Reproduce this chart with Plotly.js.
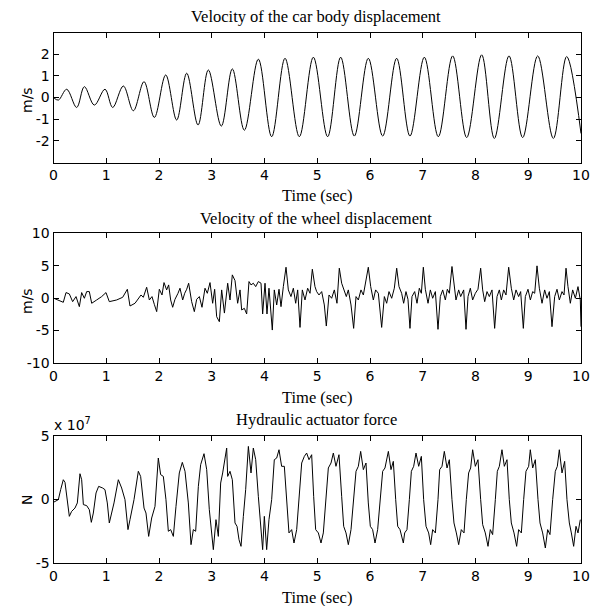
<!DOCTYPE html>
<html>
<head>
<meta charset="utf-8">
<script src="https://cdn.plot.ly/plotly-3.0.1.min.js"></script>
<style>html,body{margin:0;padding:0;background:#fff;}#chart{width:601px;height:606px;}</style>
</head>
<body>
<div id="chart"></div>
<script>
// ---- Data ----
// Velocity of the car body displacement (m/s)
var bodyT = [0,0.092,0.25,0.439,0.585,0.774,0.976,1.122,1.324,1.514,1.716,1.912,2.127,2.335,2.525,2.74,2.935,3.181,3.39,3.618,3.883,4.136,4.389,4.66,4.926,5.197,5.444,5.703,5.968,6.24,6.505,6.758,7.03,7.295,7.567,7.833,8.117,8.357,8.635,8.894,9.179,9.476,9.728,10.0];
var bodyV = [0,-0.12,0.38,-0.46,0.50,-0.35,0.38,-0.46,0.53,-0.61,0.73,-0.92,1.04,-1.04,1.12,-1.27,1.27,-1.32,1.32,-1.51,1.77,-1.81,1.81,-1.81,1.86,-1.81,1.86,-1.78,1.81,-1.78,1.81,-1.78,1.86,-1.81,1.92,-1.85,1.97,-1.89,1.92,-1.85,1.92,-1.89,1.89,-1.66];

// Velocity of the wheel displacement (m/s)
var wheelT = [0,0.186,0.237,0.30,0.363,0.427,0.49,0.534,0.585,0.629,0.679,0.724,0.818,0.913,0.995,1.058,1.197,1.311,1.40,1.45,1.545,1.608,1.659,1.703,1.766,1.817,1.867,1.911,1.956,2.006,2.057,2.095,2.145,2.183,2.221,2.259,2.303,2.36,2.398,2.449,2.487,2.525,2.562,2.619,2.67,2.714,2.765,2.815,2.872,2.916,2.967,3.017,3.055,3.093,3.144,3.188,3.24,
3.302,3.346,3.39,3.441,3.491,3.536,3.567,3.618,3.662,3.706,3.744,3.788,3.833,3.883,3.934,3.965,4.01,4.047,4.085,4.148,4.186,4.231,4.275,4.313,4.357,4.408,4.452,4.502,4.547,4.591,4.629,4.673,4.717,4.768,4.818,4.863,4.907,4.957,4.989,5.033,5.084,5.134,5.172,5.223,5.273,5.324,5.374,5.418,5.463,5.501,5.551,5.589,5.64,5.69,5.735,5.779,5.829,5.874,5.918,5.968,6.013,6.063,6.107,6.158,6.221,6.272,6.316,6.36,6.411,6.461,6.506,6.55,6.6,
6.638,6.682,6.72,6.758,6.796,6.847,6.891,6.935,6.973,7.011,7.049,7.1,7.144,7.188,7.239,7.289,7.333,7.378,7.428,7.466,7.504,7.554,7.592,7.63,7.681,7.719,7.776,7.82,7.858,7.902,7.946,7.997,8.047,8.098,8.136,8.174,8.218,8.262,8.313,8.363,8.408,8.452,8.49,8.534,8.578,8.629,8.679,8.724,8.768,8.818,8.856,8.907,8.945,8.995,9.04,9.084,9.122,9.166,9.21,9.261,9.311,9.355,9.4,9.45,9.501,9.545,9.589,9.64,9.678,9.716,9.753,9.798,9.842,9.893,9.943,9.987,10.0];
var wheelV = [0,-0.64,0.86,0.65,-0.54,0.24,-1.31,0.86,-0.02,1.01,1.01,-0.79,-0.28,0.24,0.86,-0.54,-0.28,0.13,1.37,-1.21,-0.79,-0.02,0.49,0.13,1.68,-0.28,0.24,-0.95,-2.08,1.37,0.49,2.40,1.27,2.04,-0.28,-1.41,-0.18,0.75,1.53,-0.28,0.75,1.37,2.30,-0.54,-2.08,-0.18,0.24,-1.41,1.53,0.75,2.40,-0.79,1.37,-2.86,-3.63,1.27,-2.3,
2.30,-0.28,3.59,2.71,-0.79,1.27,-1.82,-1.57,-2.44,2.56,2.04,2.30,1.78,2.56,2.30,-2.44,2.30,-2.44,1.53,-4.92,1.27,-1.05,1.37,-1.31,1.78,4.77,1.27,0.24,1.53,-0.79,1.27,-4.51,1.27,-0.28,1.53,0.75,4.46,1.78,1.01,0.49,1.01,-1.05,-4.30,0.49,-0.02,1.27,-0.79,4.62,2.30,1.53,0.24,1.27,-1.05,-4.66,0.24,-0.28,1.27,0.49,2.30,4.77,1.78,-0.28,1.27,0.75,-4.51,0.24,-0.79,1.01,-0.02,1.53,4.62,1.78,0.75,
-0.79,1.01,-0.18,-4.66,0.24,1.01,-0.79,1.53,0.75,4.77,1.37,-0.79,1.27,-0.02,1.01,-4.81,0.24,1.27,-0.28,1.37,0.75,4.88,1.78,-0.28,1.27,0.24,1.27,-4.81,0.24,1.53,-0.28,0.75,1.37,4.62,1.27,-0.54,1.01,0.24,1.27,-4.66,0.24,1.27,-0.28,1.27,0.49,4.77,1.53,-0.28,1.27,0.24,1.01,-4.66,0.24,1.37,-0.28,1.01,0.75,4.98,1.53,-0.79,1.27,-0.02,1.01,-4.40,0.24,1.37,-0.28,1.01,0.49,4.62,1.78,-0.79,1.27,-0.02,1.78,-0.28,-4.4];

// Hydraulic actuator force (in units of 1e7 N)
var forceScale = 1e7;
var forceT = [0,0.092,0.136,0.186,0.218,0.262,0.300,0.344,0.407,0.452,0.502,0.534,0.566,0.629,0.679,0.717,0.755,0.806,0.856,0.932,0.976,1.02,1.058,1.102,1.147,1.229,1.292,1.355,1.412,1.45,1.526,1.608,1.652,1.716,1.753,1.804,1.861,1.924,1.987,2.031,2.082,2.132,2.177,2.221,2.272,2.322,2.385,2.442,2.493,2.556,2.607,2.651,2.695,2.746,2.79,2.853,2.904,2.954,3.03,3.08,3.125,3.169,3.207,3.283,
3.302,3.346,3.39,3.441,3.479,3.517,3.555,3.599,3.643,3.694,3.744,3.788,3.833,3.883,3.934,3.965,3.997,4.041,4.085,4.136,4.186,4.231,4.275,4.325,4.376,4.42,4.464,4.515,4.559,4.61,4.654,4.705,4.755,4.799,4.844,4.894,4.932,4.97,5.021,5.071,5.115,5.16,5.21,5.261,5.305,5.355,5.412,5.463,5.501,5.545,5.589,5.64,5.684,5.735,5.779,5.823,5.874,5.924,5.968,6.006,6.05,6.095,6.145,6.19,6.24,6.284,6.348,6.398,6.442,6.487,6.525,6.569,6.632,
6.657,6.701,6.746,6.784,6.828,6.872,6.923,6.973,7.017,7.062,7.112,7.15,7.188,7.239,7.289,7.321,7.365,7.409,7.46,7.504,7.554,7.592,7.637,7.681,7.731,7.782,7.826,7.87,7.908,7.946,7.997,8.047,8.098,8.136,8.186,8.237,8.281,8.325,8.376,8.414,8.452,8.502,8.547,8.597,8.641,8.679,8.73,8.78,8.818,8.869,8.913,8.957,9.008,9.039,9.084,9.134,9.185,9.223,9.273,9.324,9.368,9.412,9.463,9.513,9.551,9.589,9.64,9.69,9.734,9.779,9.817,9.861,9.905,9.943,9.987];
var forceV = [-0.22,-0.01,0.77,1.55,1.34,0.12,-1.32,-0.93,-0.67,-0.27,2.02,1.55,-0.40,-0.48,-0.80,-1.79,-1.06,0.51,1.03,0.90,0.77,-0.27,-1.84,-1.06,-0.27,1.55,0.90,-0.01,-2.36,-1.58,-0.01,2.21,1.81,-0.67,-1.06,-2.89,-1.45,-0.54,3.25,1.95,1.81,-0.01,-2.49,-2.36,-2.89,-0.54,2.08,2.91,2.21,-0.27,-3.54,-2.36,-2.49,1.03,2.73,3.59,2.34,-0.80,-3.93,-1.58,-2.89,1.29,2.08,4.03,
1.81,2.21,1.55,-1.84,-2.10,-3.15,-3.67,-1.32,0.77,4.16,2.08,4.03,3.12,0.25,-2.62,-3.93,-1.32,-3.93,-1.58,-0.01,3.12,3.25,3.90,2.60,2.60,-0.01,-2.62,-2.36,-3.41,-2.36,-0.01,2.86,3.38,3.64,3.12,3.51,0.25,-2.36,-2.62,-3.41,-2.62,-0.27,2.47,2.86,3.64,2.60,3.51,0.25,-2.10,-2.62,-3.54,-2.36,-0.27,2.21,2.60,3.77,2.34,2.86,-0.27,-2.10,-2.36,-3.41,-2.36,-0.01,2.21,2.47,3.77,2.34,2.99,-0.01,-2.10,-2.36,-3.41,
-2.62,-2.36,-0.01,2.21,2.60,3.64,2.60,3.38,-0.01,-2.10,-2.62,-3.54,-2.36,-2.62,-0.01,2.34,2.60,3.77,2.47,3.12,-0.01,-1.84,-2.62,-3.54,-2.36,-2.62,-0.01,2.08,2.47,3.90,2.60,3.12,-0.01,-1.97,-2.62,-3.67,-2.36,-2.75,-0.01,2.21,2.60,3.90,2.60,3.12,-0.01,-1.84,-2.62,-3.67,-2.36,-2.62,-0.01,2.21,2.60,3.90,2.47,3.12,-0.01,-1.84,-2.62,-3.80,-2.36,-2.75,-0.01,2.21,2.60,3.90,2.08,2.99,-0.01,-1.84,-2.62,-3.67,-2.10,-2.62,-1.58];

var timeTicks = [0,1,2,3,4,5,6,7,8,9,10];
var bodyTicks = [-2,-1,0,1,2];
var wheelTicks = [-10,-5,0,5,10];
var forceTickVals = [-5,0,5];

// ---- Chart ----
var W = 601, H = 606;
function px(x){return x/W;}
function py(y){return 1 - y/H;}

var tickFont = {family: 'DejaVu Sans, Liberation Sans, Arial, sans-serif', size: 14, color: '#000'};
var serif = {family: 'Liberation Serif, Times New Roman, serif', size: 16.5, color: '#000'};
var lineStyle = {color: '#000', width: 1};

var traces = [
  {x: bodyT, y: bodyV, type: 'scatter', mode: 'lines', line: {color:'#000', width:1, shape:'spline', smoothing:1}, xaxis:'x', yaxis:'y', hoverinfo:'skip'},
  {x: wheelT, y: wheelV, type: 'scatter', mode: 'lines', line: lineStyle, xaxis:'x2', yaxis:'y2', hoverinfo:'skip'},
  {x: forceT, y: forceV.map(function(v){return v*forceScale;}), type: 'scatter', mode: 'lines', line: lineStyle, xaxis:'x3', yaxis:'y3', hoverinfo:'skip'}
];

function xax(anchor){
  return {domain:[px(53.5), px(581)], anchor: anchor, range:[0,10], tickvals: timeTicks, ticktext: timeTicks.map(String),
    ticks:'inside', ticklen:5, tickcolor:'#000', showline:true, linecolor:'#000', linewidth:1, mirror:'ticks',
    showgrid:false, zeroline:false, tickfont: tickFont, fixedrange:true};
}
function yax(anchor, top, bottom, range, vals, text){
  return {domain:[py(bottom), py(top)], anchor: anchor, range: range, tickvals: vals, ticktext: text,
    ticks:'inside', ticklen:5, tickcolor:'#000', showline:true, linecolor:'#000', linewidth:1, mirror:'ticks',
    showgrid:false, zeroline:false, tickfont: tickFont, fixedrange:true};
}

var layout = {
  width: W, height: H, margin: {l:0, r:0, t:0, b:0},
  paper_bgcolor:'#fff', plot_bgcolor:'#fff', showlegend:false,
  xaxis: xax('y'),
  xaxis2: xax('y2'),
  xaxis3: xax('y3'),
  yaxis: yax('x', 32.5, 162.5, [-3,3], bodyTicks, bodyTicks.map(String)),
  yaxis2: yax('x2', 233.3, 363, [-10,10], wheelTicks, wheelTicks.map(String)),
  yaxis3: yax('x3', 435.7, 563.3, [-5*forceScale, 5*forceScale], forceTickVals.map(function(v){return v*forceScale;}), forceTickVals.map(String)),
  annotations: [
    {text:'Velocity of the car body displacement', x:px(316), y:py(17), xref:'paper', yref:'paper', xanchor:'center', yanchor:'middle', showarrow:false, font: serif},
    {text:'Time (sec)', x:px(317), y:py(196), xref:'paper', yref:'paper', xanchor:'center', yanchor:'middle', showarrow:false, font: serif},
    {text:'Velocity of the wheel displacement', x:px(316), y:py(218), xref:'paper', yref:'paper', xanchor:'center', yanchor:'middle', showarrow:false, font: serif},
    {text:'Time (sec)', x:px(317), y:py(397), xref:'paper', yref:'paper', xanchor:'center', yanchor:'middle', showarrow:false, font: serif},
    {text:'Hydraulic actuator force', x:px(316), y:py(419), xref:'paper', yref:'paper', xanchor:'center', yanchor:'middle', showarrow:false, font: serif},
    {text:'Time (sec)', x:px(317), y:py(597), xref:'paper', yref:'paper', xanchor:'center', yanchor:'middle', showarrow:false, font: serif},
    {text:'m/s', x:px(27), y:py(100), xref:'paper', yref:'paper', xanchor:'center', yanchor:'middle', textangle:-90, showarrow:false, font: tickFont},
    {text:'m/s', x:px(27), y:py(301), xref:'paper', yref:'paper', xanchor:'center', yanchor:'middle', textangle:-90, showarrow:false, font: tickFont},
    {text:'N', x:px(27), y:py(500), xref:'paper', yref:'paper', xanchor:'center', yanchor:'middle', textangle:-90, showarrow:false, font: tickFont},
    {text:'x 10<sup>7</sup>', x:px(52), y:py(424), xref:'paper', yref:'paper', xanchor:'left', yanchor:'middle', showarrow:false, font: tickFont}
  ]
};

Plotly.newPlot('chart', traces, layout, {staticPlot:true, displayModeBar:false});
</script>
</body>
</html>
